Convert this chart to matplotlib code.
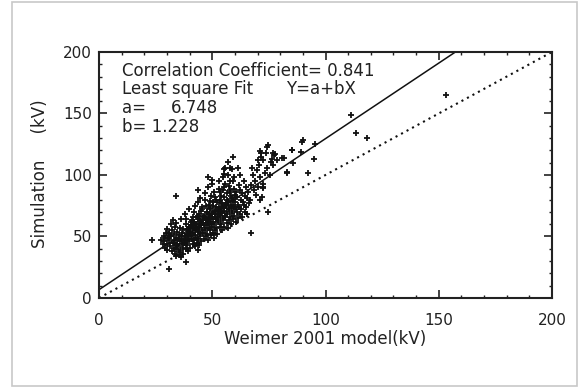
import numpy as np
import matplotlib
matplotlib.use("Agg")
import matplotlib.pyplot as plt
from matplotlib.patches import Rectangle
from matplotlib.ticker import MultipleLocator

# ===============================
# Datos (leídos a ojo de la figura)
# ===============================

# cúmulo principal
weimer_cluster = [
    27.4, 28.1, 28.7, 29.3, 28.9, 29.6, 30.2, 29.8, 30.5, 30.1, 31.4, 30.7, 31.1, 31.8, 32.3,
    32.6, 31.9, 32.2, 32.8, 33.4, 32.9, 33.7, 33.1, 33.5, 34.2, 33.8, 34.6, 34.1, 34.4, 33.9,
    35.3, 34.8, 35.6, 35.1, 35.7, 36.2, 35.9, 36.5, 36.1, 36.8, 36.4, 37.3, 36.9, 37.6, 37.2,
    38.4, 37.8, 38.1, 38.7, 38.3, 37.9, 39.2, 38.8, 39.5, 39.1, 39.7, 38.6, 40.3, 39.9, 40.6,
    40.2, 40.8, 40.4, 39.8, 41.3, 40.9, 41.6, 41.1, 41.5, 42.4, 41.8, 42.2, 42.7, 42.1, 41.9,
    43.3, 42.8, 43.6, 43.1, 43.8, 42.6, 44.2, 43.9, 44.5, 44.1,
    44.6, 44.3, 43.7, 45.2, 44.8, 45.5, 45.1, 45.7, 44.9, 46.3, 45.8, 46.6, 46.1, 46.4, 45.6,
    46.8, 47.2, 46.7, 47.5, 47.1, 47.8, 46.9, 48.3, 47.7, 48.6, 48.1, 48.4, 47.9, 48.7, 48.2,
    49.3, 48.8, 49.6, 49.1, 49.7, 48.9, 49.4, 50.2, 49.8, 50.5, 50.1, 50.7, 50.3, 49.9, 50.6,
    51.2, 50.8, 51.5, 51.1, 51.7, 50.9, 52.3, 51.8, 52.6, 52.1, 52.4, 51.6, 52.8, 53.2, 52.7,
    53.5, 53.1, 53.8, 52.9, 54.3, 53.7, 54.6, 54.1, 54.4, 53.9, 54.8, 55.2, 54.7, 55.5, 55.1,
    55.7, 54.9, 56.3, 55.8, 56.6, 56.1, 56.4, 55.6, 56.8, 55.3,
    57.2, 56.7, 57.5, 57.1, 57.8, 56.9, 58.3, 57.7, 58.6, 58.1, 58.4, 57.9, 59.2, 58.8, 59.5,
    59.1, 59.7, 58.9, 60.3, 59.8, 60.6, 60.1, 60.4, 59.6, 61.2, 60.8, 61.5, 61.1, 61.7, 62.3,
    61.8, 62.6, 62.1, 62.4, 63.2, 62.8, 63.5, 63.1, 64.3, 63.8, 64.6, 64.1, 65.2, 64.7, 65.5,
    65.1, 66.3, 65.8, 66.6, 67.2,
    68.3, 67.8, 69.2, 68.7, 70.4, 69.8, 71.1, 70.6, 72.3, 71.7, 73.2, 72.6, 74.1, 73.6, 75.3,
    76.2, 77.4, 76.8, 77.9, 78.6,
]
sim_cluster = [
    47, 44, 50, 41, 46, 53, 39, 44, 49, 56, 42, 47, 52, 60, 38,
    45, 50, 55, 63, 36, 41, 47, 52, 58, 34, 40, 44, 49, 54, 61,
    37, 42, 46, 51, 57, 33, 39, 44, 48, 53, 64, 36, 41, 47, 56,
    40, 45, 50, 55, 60, 68, 38, 43, 48, 52, 58, 64, 41, 46, 50,
    54, 57, 62, 72, 44, 48, 53, 59, 66, 42, 47, 51, 56, 61, 70,
    45, 49, 54, 58, 64, 75, 43, 48, 52, 57,
    62, 68, 78, 46, 50, 55, 59, 64, 71, 48, 53, 57, 61, 66, 74,
    85, 50, 55, 59, 63, 68, 80, 47, 52, 57, 61, 65, 70, 76, 90,
    51, 55, 60, 64, 68, 73, 83, 53, 58, 62, 66, 70, 78, 93, 49,
    55, 60, 64, 68, 74, 86, 52, 57, 62, 66, 71, 80, 95, 58, 63,
    67, 72, 77, 89, 55, 60, 65, 69, 74, 83, 98, 58, 63, 67, 71,
    76, 88, 61, 66, 70, 75, 80, 93, 57, 101,
    63, 68, 73, 78, 86, 100, 60, 66, 71, 76, 83, 95, 64, 69, 74,
    80, 89, 105, 62, 67, 72, 78, 86, 98, 65, 70, 76, 82, 92, 68,
    74, 80, 88, 100, 66, 72, 78, 85, 70, 76, 83, 95, 68, 74, 81,
    90, 77, 86, 80, 92,
    88, 100, 84, 95, 90, 104, 98, 108, 93, 115, 102, 112, 106, 118, 100,
    113, 116, 108, 117, 112,
]

# núcleo denso (puntos superpuestos)
weimer_core = [
    38.9, 39.4, 40.1, 40.7, 41.4, 41.9, 42.5, 43.0, 43.4, 44.0, 44.7, 45.3, 45.9, 46.5, 47.0,
    47.6, 48.0, 48.5, 49.0, 49.5, 50.0, 50.4, 51.0, 51.4, 52.0, 52.5, 53.0, 53.6, 54.0, 54.5,
    55.0, 55.4, 56.0, 56.5, 57.0, 57.6, 58.0, 58.5, 59.0, 60.0, 41.0, 43.5, 45.5, 47.3, 49.2,
    51.3, 53.3, 55.3, 57.3, 59.3, 36.5, 37.5, 38.2, 39.6, 35.5, 34.5, 33.2, 31.5, 30.8, 29.2,
    55.6, 57.8, 61.4, 67.5, 74.0, 71.0,
]
sim_core = [
    51, 56, 54, 59, 57, 62, 55, 60, 66, 58, 63, 61, 67, 59, 65,
    70, 62, 68, 72, 64, 69, 75, 66, 71, 78, 68, 74, 80, 70, 77,
    73, 82, 76, 85, 79, 72, 88, 81, 75, 84, 63, 67, 72, 75, 79,
    82, 86, 90, 91, 95, 50, 45, 47, 51, 48, 43, 45, 50, 53, 49,
    105.7, 105.7, 106, 106, 123, 119.5,
]

# puntos aislados
weimer_sparse = [153.2, 111.2, 113.6, 118.2, 95.4, 90.1, 89.6, 89.2, 85.2,
                 95.0, 81.5, 82.8, 92.3, 85.6, 74.5, 67.3, 70.9, 72.5, 74.7,
                 76.6, 75.8, 71.7, 70.0, 59.3, 57.0, 55.0, 48.0, 34.2, 23.6,
                 31.0, 38.5, 43.7, 35.9, 43.6, 44.8, 49.7, 80.8, 85.0, 83.0,
                 72.4, 72.0]
sim_sparse = [165.3, 149.0, 134.0, 130.0, 125.0, 128.7, 126.6, 119.0, 120.0,
              113.0, 113.8, 102.7, 101.6, 110.0, 70.0, 52.6, 80.0, 90.0, 124.0,
              118.0, 110.6, 118.0, 112.5, 114.6, 110.6, 105.0, 98.0, 82.7, 47.4,
              23.6, 29.3, 38.8, 35.2, 87.5, 81.3, 96.2, 114.0, 120.0, 102.0,
              89.4, 82.0]

corr = 0.841
a_fit = 6.748
b_fit = 1.228

weimer = np.array(weimer_cluster + weimer_core + weimer_sparse, dtype=float)
sim = np.array(sim_cluster + sim_core + sim_sparse, dtype=float)

# ===============================
# Figura
# ===============================

plt.rcParams["font.family"] = ["DejaVu Sans"]

fig = plt.figure(figsize=(5.78, 3.87), dpi=100)
fig.patches.append(Rectangle((0.0216, 0.0026), 0.977, 0.991, transform=fig.transFigure,
                             fill=False, edgecolor="#c8c8c8", linewidth=1.2))

ax = fig.add_axes([0.1713, 0.230, 0.7837, 0.6357])

ax.plot(weimer, sim, "+", color="#111111", markersize=5, markeredgewidth=1.3)

xx = np.array([0, 200])
ax.plot(xx, a_fit + b_fit * xx, "-", color="#111111", linewidth=1.1)
ax.plot(xx, xx, color="#111111", linewidth=1.5, linestyle=(0, (1, 2)))

ax.set_xlim(0, 200)
ax.set_ylim(0, 200)
ax.xaxis.set_major_locator(MultipleLocator(50))
ax.yaxis.set_major_locator(MultipleLocator(50))
ax.xaxis.set_minor_locator(MultipleLocator(10))
ax.yaxis.set_minor_locator(MultipleLocator(10))
ax.tick_params(which="both", direction="in", top=True, right=True,
               color="#222222", labelsize=11, labelcolor="#222222")
ax.tick_params(which="major", length=6, width=1.2)
ax.tick_params(which="minor", length=2.5, width=1.0)
ax.tick_params(axis="x", which="major", pad=11)
ax.tick_params(axis="y", which="major", pad=5)
for s in ax.spines.values():
    s.set_linewidth(1.5)
    s.set_color("#222222")

kw = dict(transform=ax.transAxes, fontsize=12, color="#222222", va="center", ha="left")
ax.text(0.051, 0.923, f"Correlation Coefficient= {corr:.3f}", **kw)
ax.text(0.051, 0.850, "Least square Fit", **kw)
ax.text(0.413, 0.850, "Y=a+bX", **kw)
ax.text(0.051, 0.772, "a=", **kw)
ax.text(0.159, 0.772, f"{a_fit:.3f}", **kw)
ax.text(0.051, 0.695, f"b= {b_fit:.3f}", **kw)

ax.text(0.5, -0.167, "Weimer 2001 model(kV)", transform=ax.transAxes, fontsize=12,
        color="#222222", ha="center", va="center")
fig.text(40 / 578, 1 - 174 / 387, "Simulation     (kV)", rotation=90, fontsize=12,
         color="#222222", ha="center", va="center")

fig.savefig("out.png", dpi=100)
